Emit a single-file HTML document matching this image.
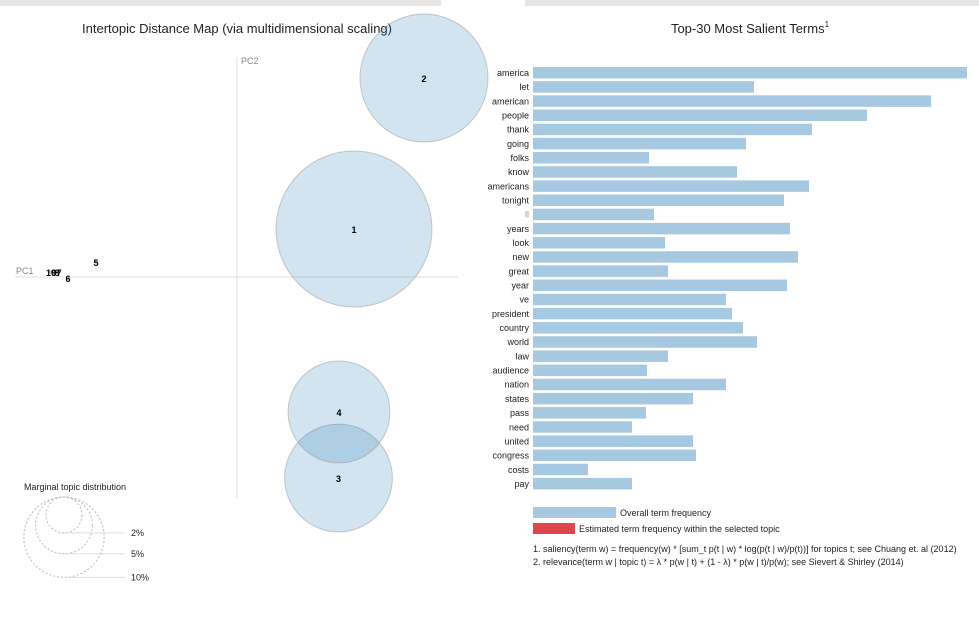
<!DOCTYPE html>
<html><head><meta charset="utf-8"><style>
html,body{margin:0;padding:0;background:#fff;width:979px;height:642px;overflow:hidden}
svg{font-family:"Liberation Sans",Arial,sans-serif}
</style></head><body>
<svg id="svg" width="979" height="642" xmlns="http://www.w3.org/2000/svg">
<rect x="0" y="0" width="441" height="6" fill="#e6e6e6"/>
<rect x="525" y="0" width="454" height="6" fill="#e6e6e6"/>
<text x="237" y="33" text-anchor="middle" font-size="13" fill="#222">Intertopic Distance Map (via multidimensional scaling)</text>
<text x="750" y="33" text-anchor="middle" font-size="13" fill="#222">Top-30 Most Salient Terms<tspan font-size="8" dy="-6">1</tspan></text>
<line x1="237" y1="57" x2="237" y2="498" stroke="#ddd" stroke-width="1"/>
<line x1="15" y1="277" x2="458" y2="277" stroke="#ddd" stroke-width="1"/>
<text x="241" y="64" font-size="9" fill="#888">PC2</text>
<text x="16" y="274" font-size="9" fill="#888">PC1</text>
<g id="topics"></g>
<g id="bars"></g>
<text x="24" y="490" font-size="9" fill="#222">Marginal topic distribution</text>
<g id="mlegend"></g>
<rect x="533" y="507" width="83" height="11" fill="#a6c8e0"/>
<text x="620" y="516" font-size="9" fill="#222">Overall term frequency</text>
<rect x="533" y="523" width="42" height="11" fill="#e0464d"/>
<text x="579" y="532" font-size="9" fill="#222">Estimated term frequency within the selected topic</text>
<text x="533" y="552" font-size="9" fill="#222">1. saliency(term w) = frequency(w) * [sum_t p(t | w) * log(p(t | w)/p(t))] for topics t; see Chuang et. al (2012)</text>
<text x="533" y="565" font-size="9" fill="#222">2. relevance(term w | topic t) = λ * p(w | t) + (1 - λ) * p(w | t)/p(w); see Sievert &amp; Shirley (2014)</text>
</svg>
<script>
const topicIds=[1,2,3,4,5,6,7,8,9,10];
const topicPC1=[1.17,1.87,1.015,1.02,-1.41,-1.69,-1.78,-1.80,-1.83,-1.86];
const topicPC2=[0.48,1.99,-2.01,-1.35,0.15,-0.01,0.05,0.05,0.05,0.05];
const topicPct=[37.7,25.4,18.0,16.1,0.01,0.01,0.01,0.01,0.01,0.01];
const terms=["america","let","american","people","thank","going","folks","know","americans","tonight","ll","years","look","new","great","year","ve","president","country","world","law","audience","nation","states","pass","need","united","congress","costs","pay"];
const termFreq=[434,221,398,334,279,213,116,204,276,251,121,257,132,265,135,254,193,199,210,224,135,114,193,160,113,99,160,163,55,99];
const legendPct=[2,5,10];
const legendLabels=["2%","5%","10%"];
const NS="http://www.w3.org/2000/svg";
function mk(t,a,p){const e=document.createElementNS(NS,t);for(const k in a)e.setAttribute(k,a[k]);p.appendChild(e);return e;}
const sx=v=>237+v*100, sy=v=>277-v*100, rr=p=>12.7*Math.sqrt(p);
const tg=document.getElementById('topics');
topicIds.forEach((id,i)=>{
  const c=mk('circle',{cx:sx(topicPC1[i]),cy:sy(topicPC2[i]),r:rr(topicPct[i]),fill:'#1f77b4','fill-opacity':0.2,stroke:'#999','stroke-opacity':0.5,'stroke-width':1},tg);
  
  
});
topicIds.forEach((id,i)=>{
  const t=mk('text',{x:sx(topicPC1[i]),y:sy(topicPC2[i])+4,'text-anchor':'middle','font-size':9,'font-weight':'bold',fill:'#000'},tg);
  t.textContent=id;
  
  
});
const bg=document.getElementById('bars');
const maxF=Math.max(...termFreq);
const bx=v=>533+v/maxF*434, by=i=>67+i*14.17;
terms.forEach((w,i)=>{
  const r=mk('rect',{x:533,y:by(i),width:bx(termFreq[i])-533,height:11.5,fill:'#a6c8e0'},bg);
  
  
  const t=mk('text',{x:529,y:by(i)+9,'text-anchor':'end','font-size':9,fill:w==='ll'?'#998':'#222'},bg);
  t.textContent=w;
  
  
});
const lg=document.getElementById('mlegend');
const lcx=64, lbase=497;
legendPct.forEach((p,i)=>{
  const r=rr(p);
  const cy=lbase+r;
  const c=mk('circle',{cx:lcx,cy:cy,r:r,fill:'none',stroke:'#bbb','stroke-dasharray':'2 2','stroke-width':1},lg);
  
  
  const l=mk('line',{x1:lcx,y1:cy+r,x2:125,y2:cy+r,stroke:'#ddd','stroke-width':1},lg);
  
  
  const t=mk('text',{x:131,y:cy+r+3,'font-size':9,fill:'#222'},lg);
  t.textContent=legendLabels[i];
  
  
});
</script>
</body></html>
